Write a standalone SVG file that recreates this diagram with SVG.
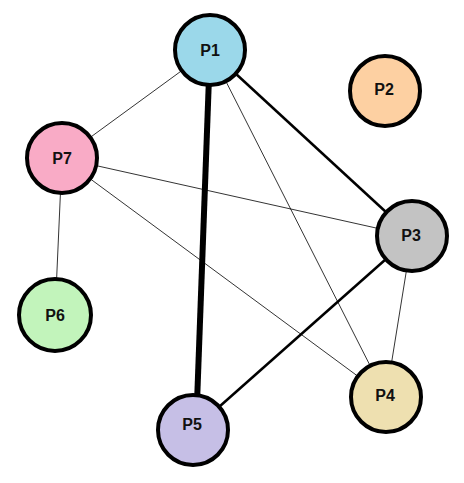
<svg xmlns="http://www.w3.org/2000/svg" width="464" height="483" viewBox="0 0 464 483">
<style>
.n{stroke:#000;stroke-width:4}
.t{font-family:"Liberation Sans",Arial,sans-serif;font-weight:bold;font-size:16px;fill:#111;text-anchor:middle;dominant-baseline:central}
.e{stroke:#000;fill:none}
.thin{stroke-width:0.8}
.med{stroke-width:2.5}
.thick{stroke-width:6}
</style>
<rect width="464" height="483" fill="#fff"/>
<g id="connectors">
<line class="e thin" x1="210" y1="50" x2="62" y2="158"/>
<line class="e thin" x1="210" y1="50" x2="386" y2="397"/>
<line class="e med" x1="210" y1="50" x2="412" y2="236"/>
<line class="e thin" x1="62" y1="158" x2="412" y2="236"/>
<line class="e thin" x1="62" y1="158" x2="386" y2="397"/>
<line class="e thin" x1="62" y1="158" x2="55" y2="315"/>
<line class="e med" x1="412" y1="236" x2="193" y2="430"/>
<line class="e thin" x1="412" y1="236" x2="386" y2="397"/>
<line class="e thick" x1="210" y1="50" x2="196" y2="430"/>
</g>
<g id="P1"><circle class="n" cx="210" cy="50" r="35" fill="#9bd8ea"/><text class="t" x="210" y="50">P1</text></g>
<g id="P2"><circle class="n" cx="385" cy="91" r="35" fill="#fdd0a2"/><text class="t" x="384" y="89">P2</text></g>
<g id="P3"><circle class="n" cx="412" cy="236" r="35" fill="#c3c3c3"/><text class="t" x="411" y="235">P3</text></g>
<g id="P4"><circle class="n" cx="386" cy="397" r="35" fill="#eee0b0"/><text class="t" x="385" y="395">P4</text></g>
<g id="P5"><circle class="n" cx="193" cy="430" r="35" fill="#c6bfe6"/><text class="t" x="192" y="424">P5</text></g>
<g id="P6"><circle class="n" cx="55" cy="315" r="36" fill="#c2f4bb"/><text class="t" x="55" y="315">P6</text></g>
<g id="P7"><circle class="n" cx="62" cy="158" r="35" fill="#f9abc6"/><text class="t" x="62" y="158">P7</text></g>
</svg>
